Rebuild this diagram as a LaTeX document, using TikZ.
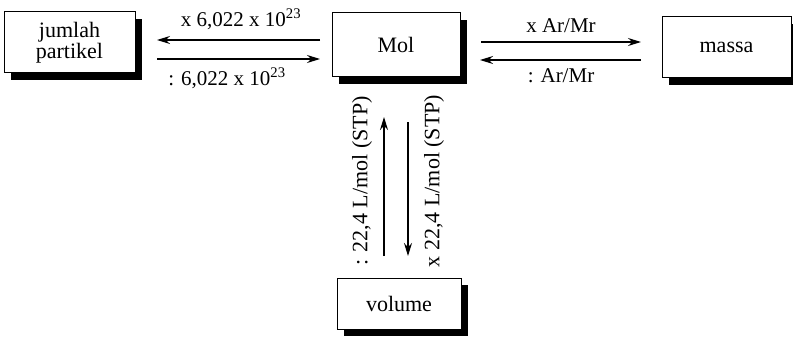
\documentclass[tikz,border=0pt]{standalone}
\usepackage{fontspec}
\setmainfont{Liberation Serif}
\usetikzlibrary{arrows.meta,shadows}
\begin{document}
\begin{tikzpicture}[x=1pt,y=-1pt,
  box/.style={draw=black,line width=1pt,fill=white,inner sep=0pt,
    font=\fontsize{22}{24}\selectfont,align=center,
    drop shadow={shadow xshift=7pt,shadow yshift=-7pt,fill=black,opacity=1}},
  conv/.style={line width=1.4pt,-{Stealth[length=13pt,width=8pt]}},
  lbl/.style={font=\fontsize{21}{23}\selectfont,inner sep=0pt},
  vlbl/.style={font=\fontsize{22}{24}\selectfont,inner sep=0pt,rotate=90}]
\useasboundingbox (0,0) rectangle (793,345);
\node[box,minimum width=131pt,minimum height=61pt] (jp) at (69.5,42.5) {jumlah\\[-3pt]partikel};
\node[box,minimum width=128pt,minimum height=64pt] (mol) at (396,45) {Mol};
\node[box,minimum width=129pt,minimum height=61pt] (ms) at (726.5,47.5) {massa};
\node[box,minimum width=124pt,minimum height=51pt] (vol) at (399,303.5) {volume};
% left arrows
\coordinate (a1s) at (320,40); \coordinate (a1e) at (157,40);
\coordinate (a2s) at (157,59); \coordinate (a2e) at (320,59);
\draw[conv] (a1s) -- (a1e);
\draw[conv] (a2s) -- (a2e);
\node[lbl] (l1) at (241,19) {x 6,022 x 10\textsuperscript{23}};
\node[lbl] (l2) at (227,78) {: 6,022 x 10\textsuperscript{23}};
% right arrows
\coordinate (b1s) at (481,42); \coordinate (b1e) at (641,42);
\coordinate (b2s) at (641,60); \coordinate (b2e) at (480,60);
\draw[conv] (b1s) -- (b1e);
\draw[conv] (b2s) -- (b2e);
\node[lbl] (l3) at (561,26) {x Ar/Mr};
\node[lbl] (l4) at (561,76) {: Ar/Mr};
% vertical arrows
\coordinate (c1s) at (384,256); \coordinate (c1e) at (384,117);
\coordinate (c2s) at (408,122); \coordinate (c2e) at (408,256);
\draw[conv] (c1s) -- (c1e);
\draw[conv] (c2s) -- (c2e);
\node[vlbl] (l5) at (362,181) {: 22,4 L/mol (STP)};
\node[vlbl] (l6) at (434,181) {x 22,4 L/mol (STP)};
\end{tikzpicture}
\end{document}
